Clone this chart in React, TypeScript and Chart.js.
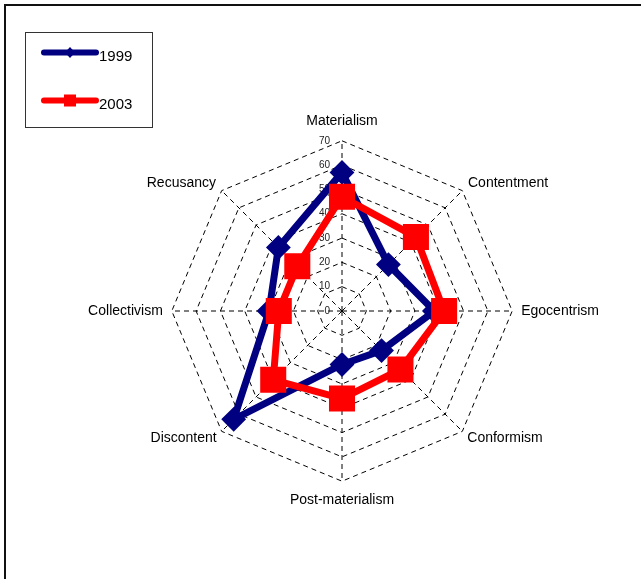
import React, { useEffect, useRef } from "react";
import { Chart, registerables } from "chart.js";

Chart.register(...registerables);

// ---- data ----
const categories = [
  "Materialism",
  "Contentment",
  "Egocentrism",
  "Conformism",
  "Post-materialism",
  "Discontent",
  "Collectivism",
  "Recusancy",
];
const values1999 = [57, 27, 38, 23, 22, 63, 30, 37];
const values2003 = [47, 43, 42, 34, 36, 40, 26, 26];
const seriesNames = ["1999", "2003"];
const tickValues = [0, 10, 20, 30, 40, 50, 60, 70];

// ---- styles ----
const NAVY = "#000080";
const RED = "#ff0000";
const FONT = "'Liberation Sans', Arial, Helvetica, sans-serif";
const labelPadding = [18, 8, 9, 7, 18, 7, 9, 8];

const framePlugin = {
  id: "frame",
  beforeDraw(chart: any) {
    const ctx = chart.ctx;
    ctx.save();
    ctx.fillStyle = "#ffffff";
    ctx.fillRect(0, 0, chart.width, chart.height);
    ctx.fillStyle = "#111111";
    ctx.fillRect(4, 4, chart.width - 4, 2);
    ctx.fillRect(4, 4, 2, chart.height - 4);
    ctx.restore();
  },
};

const tickLabelPlugin = {
  id: "tickLabels",
  beforeDatasetsDraw(chart: any) {
    const s = chart.scales.r;
    const ctx = chart.ctx;
    ctx.save();
    ctx.font = `10px ${FONT}`;
    ctx.fillStyle = "#222222";
    ctx.textAlign = "right";
    ctx.textBaseline = "middle";
    s.ticks.forEach((t: any) => {
      const d = s.getDistanceFromCenterForValue(t.value);
      ctx.fillText(String(t.value), s.xCenter - 12, s.yCenter - d);
    });
    ctx.restore();
  },
};

const boxLegendPlugin = {
  id: "boxLegend",
  afterDraw(chart: any) {
    const ctx = chart.ctx;
    ctx.save();
    ctx.strokeStyle = "#333333";
    ctx.lineWidth = 1;
    ctx.strokeRect(25.5, 32.5, 127, 95);
    const rows = [52.5, 100.5];
    chart.data.datasets.forEach((ds: any, i: number) => {
      const y = rows[i];
      ctx.strokeStyle = ds.borderColor;
      ctx.lineWidth = 6;
      ctx.lineCap = "round";
      ctx.beginPath();
      ctx.moveTo(44, y);
      ctx.lineTo(96, y);
      ctx.stroke();
      ctx.fillStyle = ds.borderColor;
      if (ds.pointStyle === "rectRot") {
        ctx.beginPath();
        ctx.moveTo(70 - 5, y);
        ctx.lineTo(70, y - 5.5);
        ctx.lineTo(70 + 5, y);
        ctx.lineTo(70, y + 5.5);
        ctx.closePath();
        ctx.fill();
      } else {
        ctx.fillRect(64, y - 6, 12, 12);
      }
      ctx.fillStyle = "#000000";
      ctx.font = `15px ${FONT}`;
      ctx.textAlign = "left";
      ctx.textBaseline = "middle";
      ctx.fillText(ds.label, 99, y + 4);
    });
    ctx.restore();
  },
};

export default function App() {
  const ref = useRef<HTMLCanvasElement | null>(null);

  useEffect(() => {
    if (!ref.current) return;
    const chart = new Chart(ref.current, {
      type: "radar",
      data: {
        labels: categories,
        datasets: [
          {
            label: seriesNames[0],
            data: values1999,
            borderColor: NAVY,
            backgroundColor: NAVY,
            borderWidth: 7,
            fill: false,
            tension: 0,
            pointStyle: "rectRot",
            pointRadius: 11,
            pointBorderWidth: 2,
            pointBackgroundColor: NAVY,
            pointBorderColor: NAVY,
            order: 2,
          },
          {
            label: seriesNames[1],
            data: values2003,
            borderColor: RED,
            backgroundColor: RED,
            borderWidth: 7,
            fill: false,
            tension: 0,
            pointStyle: "rect",
            pointRadius: 17,
            pointBorderWidth: 2,
            pointBackgroundColor: RED,
            pointBorderColor: RED,
            order: 1,
          },
        ],
      },
      options: {
        responsive: false,
        animation: false,
        devicePixelRatio: 1,
        layout: { padding: { left: 43, right: 0, top: 120, bottom: 77 } },
        plugins: {
          legend: { display: false },
          tooltip: { enabled: false },
        },
        scales: {
          r: {
            min: 0,
            max: 70,
            afterBuildTicks: (scale: any) => {
              scale.ticks = tickValues.map((v) => ({ value: v }));
            },
            ticks: { display: false, stepSize: 10 },
            grid: { color: "#000000", lineWidth: 1 },
            border: { dash: [5, 4] },
            angleLines: { color: "#000000", lineWidth: 1, borderDash: [5, 4] },
            pointLabels: {
              color: "#000000",
              font: { family: FONT, size: 14, lineHeight: 0.2 },
              padding: (ctx: any) => labelPadding[ctx.index],
            },
          },
        },
      } as any,
      plugins: [framePlugin, tickLabelPlugin, boxLegendPlugin],
    });
    return () => chart.destroy();
  }, []);

  return (
    <canvas
      ref={ref}
      width={641}
      height={579}
      style={{ position: "absolute", left: 0, top: 0, width: 641, height: 579 }}
    />
  );
}
